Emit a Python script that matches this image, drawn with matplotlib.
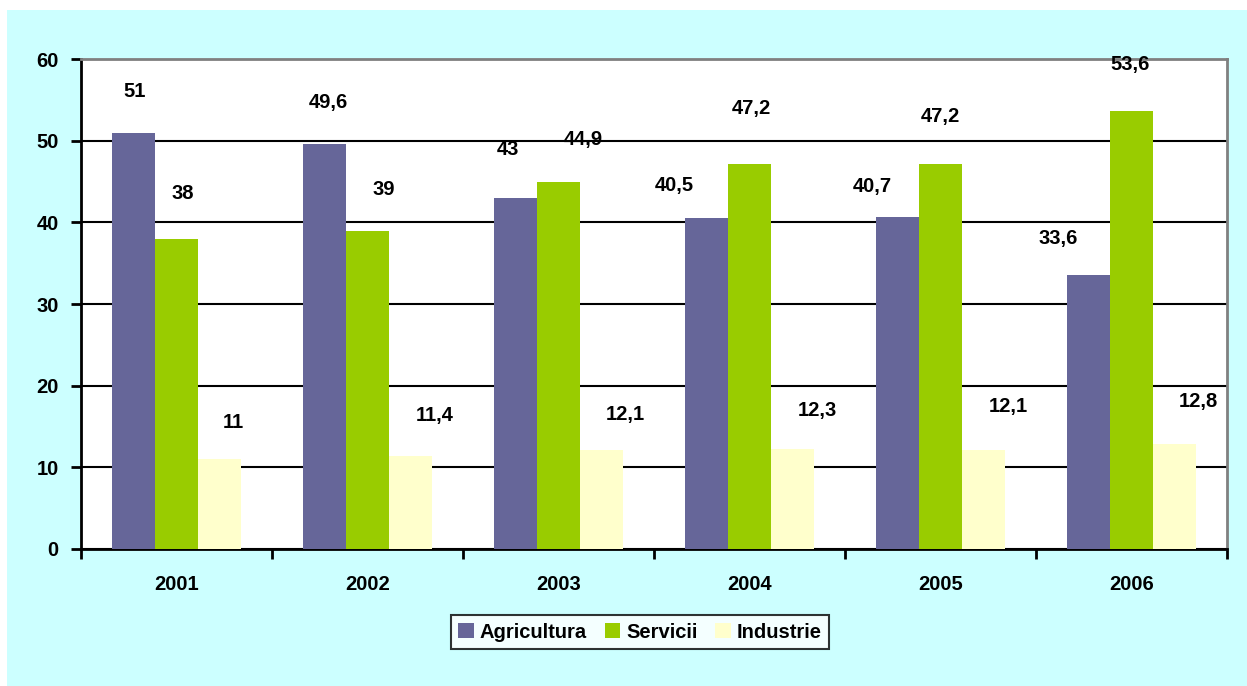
import matplotlib
matplotlib.use("Agg")
import matplotlib.pyplot as plt
from matplotlib.patches import Rectangle
from matplotlib.ticker import FixedLocator, NullFormatter, FixedFormatter
import numpy as np

years = ["2001", "2002", "2003", "2004", "2005", "2006"]
agricultura = [51, 49.6, 43, 40.5, 40.7, 33.6]
servicii = [38, 39, 44.9, 47.2, 47.2, 53.6]
industrie = [11, 11.4, 12.1, 12.3, 12.1, 12.8]
series_names = ["Agricultura", "Servicii", "Industrie"]
yticks = [0, 10, 20, 30, 40, 50, 60]

# label layout (offsets relative to each bar's category centre / value)
label_dx = [
    [-0.217, -0.207, -0.264, -0.395, -0.359, -0.385],
    [0.034, 0.086, 0.128, 0.008, -0.003, -0.008],
    [0.296, 0.353, 0.348, 0.353, 0.353, 0.348],
]
label_dy = [
    [4.96, 5.13, 5.86, 4.07, 3.63, 4.36],
    [5.59, 4.96, 5.30, 6.68, 5.70, 5.67],
    [4.55, 4.89, 4.31, 4.60, 5.29, 5.20],
]

colors = ["#666699", "#99CC00", "#FFFFCC"]
FONT = "Liberation Sans"
FS = 14.5

fig = plt.figure(figsize=(12.47, 6.86), dpi=100)
fig.patch.set_facecolor("white")
fig.patches.append(Rectangle((7 / 1247, 0), 1 - 7 / 1247, 1 - 10 / 686,
                             transform=fig.transFigure, facecolor="#CCFFFF",
                             edgecolor="none", zorder=-10))

ax = fig.add_axes([81 / 1247, 1 - 549 / 686, (1227 - 81) / 1247, (549 - 59) / 686])
ax.set_facecolor("white")

x = np.arange(len(years))
w = 0.225
data = [agricultura, servicii, industrie]
for k, (vals, name, c) in enumerate(zip(data, series_names, colors)):
    ax.bar(x + (k - 1) * w, vals, width=w, color=c, label=name, zorder=3, linewidth=0)
    for i, v in enumerate(vals):
        txt = f"{v:g}".replace(".", ",")
        ax.text(x[i] + label_dx[k][i], v + label_dy[k][i], txt, ha="center", va="center",
                fontsize=FS, fontweight="bold", family=FONT, zorder=5)

ax.set_xlim(-0.5, len(years) - 0.5)
ax.set_ylim(0, 60)
ax.set_yticks(yticks)
ax.set_yticklabels([str(t) for t in yticks])
ax.yaxis.grid(True, color="black", linewidth=1.5, zorder=1)
ax.set_axisbelow(True)

ax.xaxis.set_major_locator(FixedLocator(np.arange(-0.5, len(years), 1.0)))
ax.xaxis.set_major_formatter(NullFormatter())
ax.xaxis.set_minor_locator(FixedLocator(x))
ax.xaxis.set_minor_formatter(FixedFormatter(years))
ax.tick_params(axis="x", which="major", length=7, width=2, direction="out", color="black")
ax.tick_params(axis="x", which="minor", length=0, pad=19)
ax.tick_params(axis="y", length=7, width=2, direction="out", pad=9)
for lab in ax.get_xticklabels(minor=True) + ax.get_yticklabels():
    lab.set_fontsize(FS)
    lab.set_fontweight("bold")
    lab.set_family(FONT)

for s in ["left", "bottom"]:
    ax.spines[s].set_color("black")
    ax.spines[s].set_linewidth(2)
for s in ["top", "right"]:
    ax.spines[s].set_color("#808080")
    ax.spines[s].set_linewidth(2)

leg = fig.legend(loc="center", bbox_to_anchor=(640 / 1247, 1 - 632 / 686), ncol=3,
                 frameon=True, fancybox=False, edgecolor="black", facecolor="white",
                 prop={"family": FONT, "weight": "bold", "size": FS},
                 handlelength=0.75, handleheight=0.75, handletextpad=0.3,
                 columnspacing=0.9, borderpad=0.35)
leg.get_frame().set_linewidth(1.5)

fig.savefig("out.png", dpi=100, facecolor=fig.get_facecolor())
